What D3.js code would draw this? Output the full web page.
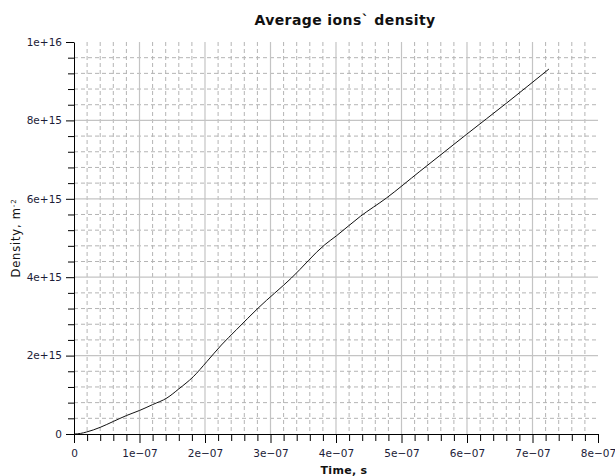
<!DOCTYPE html>
<head>
<meta charset="utf-8">
<style>
    body { margin: 0; background: #fff; }
    text { font-family: "DejaVu Sans", sans-serif; }
    .tick text { fill: #1c1c38; font-size: 10.5px; }
    .domain, .tick line { stroke: #000; }
</style>
</head>
<body>
    <script src="https://d3js.org/d3.v7.min.js"></script>
    <script>

    ///////////////////////////
    ////////// DATA ///////////
    ///////////////////////////

    const title = 'Average ions` density';
    const xLabel = 'Time, s';
    const yLabel = 'Density, m';
    const yLabelSup = '-2';

    // time, s
    const times = [0, 0.1e-7, 0.19e-7, 0.4e-7, 0.6e-7, 0.8e-7, 1.0e-7, 1.2e-7, 1.42e-7, 1.6e-7,
        1.82e-7, 2.03e-7, 2.25e-7, 2.48e-7, 2.81e-7, 3.32e-7, 3.83e-7, 4.01e-7, 4.37e-7,
        4.77e-7, 5.28e-7, 5.99e-7, 6.61e-7, 7.25e-7];
    // density, m^-2
    const density = [0, 0.015e15, 0.05e15, 0.17e15, 0.32e15, 0.47e15, 0.60e15, 0.75e15, 0.92e15, 1.15e15,
        1.46e15, 1.85e15, 2.27e15, 2.66e15, 3.21e15, 3.98e15, 4.83e15, 5.06e15, 5.55e15,
        6.02e15, 6.70e15, 7.64e15, 8.45e15, 9.31e15];

    const xTicks = [0, 1e-7, 2e-7, 3e-7, 4e-7, 5e-7, 6e-7, 7e-7, 8e-7];
    const xTickLabels = ['0', '1e\u221207', '2e\u221207', '3e\u221207', '4e\u221207', '5e\u221207', '6e\u221207', '7e\u221207', '8e\u221207'];
    const yTicks = [0, 2e15, 4e15, 6e15, 8e15, 1e16];
    const yTickLabels = ['0', '2e+15', '4e+15', '6e+15', '8e+15', '1e+16'];

    ///////////////////////////
    ////////// SETUP //////////
    ///////////////////////////

    const margin = { top: 42, right: 17, bottom: 42, left: 74 };
    const width = 615 - margin.left - margin.right;
    const height = 476 - margin.top - margin.bottom;

    let svg = d3.select('body').append('svg')
        .attr('width', 615)
        .attr('height', 476);
    let base = svg.append('g')
        .attr('transform', 'translate(' + margin.left + ',' + margin.top + ')');

    let xScale = d3.scaleLinear().domain([0, 8e-7]).range([0, width]);
    let yScale = d3.scaleLinear().domain([0, 1e16]).range([height, 0]);

    const xMinor = d3.range(0, 41).map(i => i * 2e-8).filter(v => !xTicks.some(t => Math.abs(t - v) < 1e-12));
    const yMinor = d3.range(0, 26).map(i => i * 4e14).filter(v => !yTicks.some(t => Math.abs(t - v) < 1));

    //////////////////////////
    ////////// GRID //////////
    //////////////////////////

    let grid = base.append('g');
    grid.selectAll('.vminor').data(xMinor.filter(v => v < 8e-7)).enter().append('line')
        .attr('x1', d => xScale(d)).attr('x2', d => xScale(d))
        .attr('y1', 0).attr('y2', height)
        .attr('stroke', '#b4b4b4').attr('stroke-dasharray', '4,3');
    grid.selectAll('.hminor').data(yMinor).enter().append('line')
        .attr('x1', 0).attr('x2', width)
        .attr('y1', d => yScale(d)).attr('y2', d => yScale(d))
        .attr('stroke', '#b4b4b4').attr('stroke-dasharray', '4,3');
    grid.selectAll('.vmajor').data(xTicks.slice(1, -1)).enter().append('line')
        .attr('x1', d => xScale(d)).attr('x2', d => xScale(d))
        .attr('y1', 0).attr('y2', height)
        .attr('stroke', '#c4c4c4').attr('stroke-width', 1.2);
    grid.selectAll('.hmajor').data(yTicks.slice(1, -1)).enter().append('line')
        .attr('x1', 0).attr('x2', width)
        .attr('y1', d => yScale(d)).attr('y2', d => yScale(d))
        .attr('stroke', '#c4c4c4').attr('stroke-width', 1.2);

    //////////////////////////
    ////////// AXES //////////
    //////////////////////////

    base.append('g')
        .attr('transform', 'translate(0,' + height + ')')
        .call(d3.axisBottom(xScale).tickValues(xMinor).tickSize(7).tickFormat('').tickSizeOuter(0))
        .select('.domain').remove();
    base.append('g')
        .attr('transform', 'translate(0,' + height + ')')
        .call(d3.axisBottom(xScale).tickValues(xTicks).tickSize(9).tickSizeOuter(0)
            .tickFormat((d, i) => xTickLabels[i]))
        .call(g => g.selectAll('.tick text').attr('dy', '1.05em'));

    base.append('g')
        .call(d3.axisLeft(yScale).tickValues(yMinor).tickSize(6).tickFormat('').tickSizeOuter(0))
        .select('.domain').remove();
    base.append('g')
        .call(d3.axisLeft(yScale).tickValues(yTicks).tickSize(8).tickSizeOuter(0)
            .tickFormat((d, i) => yTickLabels[i]))
        .call(g => g.selectAll('.tick text').attr('x', -12));

    //////////////////////////
    ////////// LINE //////////
    //////////////////////////

    let line = d3.line()
        .x((d, i) => xScale(times[i]))
        .y(d => yScale(d))
        .curve(d3.curveMonotoneX);

    base.append('path')
        .datum(density)
        .attr('d', line)
        .attr('fill', 'none')
        .attr('stroke', '#111')
        .attr('stroke-width', 1);

    ///////////////////////////
    ////////// TEXTS //////////
    ///////////////////////////

    svg.append('text')
        .attr('x', 345).attr('y', 25)
        .attr('text-anchor', 'middle')
        .attr('font-weight', 'bold').attr('font-size', 14)
        .attr('letter-spacing', 0.4)
        .attr('fill', '#111')
        .text(title);

    svg.append('text')
        .attr('x', 344).attr('y', 474)
        .attr('text-anchor', 'middle')
        .attr('font-weight', 'bold').attr('font-size', 11)
        .attr('letter-spacing', 0.3)
        .attr('fill', '#111')
        .text(xLabel);

    let yl = svg.append('text')
        .attr('transform', 'translate(20,238) rotate(-90)')
        .attr('text-anchor', 'middle')
        .attr('font-size', 11.5)
        .attr('letter-spacing', 0.8)
        .attr('fill', '#111');
    yl.append('tspan').text(yLabel);
    yl.append('tspan').attr('dy', -4).attr('font-size', 7).text(yLabelSup);

    </script>
</body>
